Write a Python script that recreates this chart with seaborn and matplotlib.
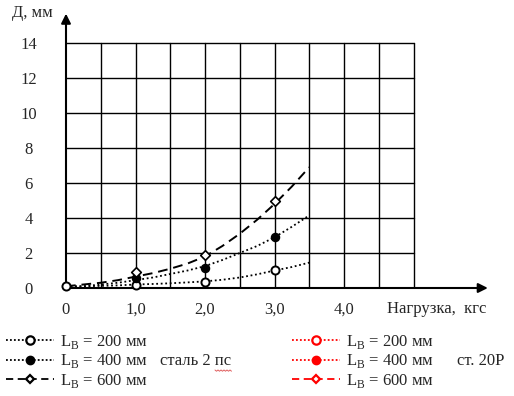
import numpy as np
import pandas as pd
import matplotlib
matplotlib.use("Agg")
import matplotlib.pyplot as plt
from matplotlib.lines import Line2D
import seaborn as sns

# -------------------- data --------------------
curve_x = [0, 0.25, 0.5, 0.75, 1.0, 1.25, 1.5, 1.75, 2.0, 2.25, 2.5, 2.75, 3.0, 3.25, 3.5]
curve_200 = [0.1, 0.1, 0.12, 0.15, 0.2, 0.23, 0.27, 0.32, 0.38, 0.47, 0.6, 0.78, 1.0, 1.2, 1.45]
curve_400 = [0.05, 0.1, 0.2, 0.3, 0.45, 0.6, 0.8, 1.0, 1.25, 1.6, 2.0, 2.4, 2.9, 3.5, 4.15]
curve_600 = [0.1, 0.2, 0.3, 0.45, 0.65, 0.85, 1.1, 1.4, 1.8, 2.4, 3.1, 3.9, 4.8, 5.8, 6.9]

pts_200_x = [0, 1, 2, 3]
pts_200_y = [0.1, 0.2, 0.36, 1.05]
pts_400_x = [1, 2, 3]
pts_400_y = [0.6, 1.15, 2.9]
pts_600_x = [1, 2, 3]
pts_600_y = [0.9, 1.9, 4.95]

x_ticks = [0, 1, 2, 3, 4]
x_tick_labels = ["0", "1,0", "2,0", "3,0", "4,0"]
y_ticks = [0, 2, 4, 6, 8, 10, 12, 14]
legend_labels = ["200", "400", "600"]

# -------------------- style --------------------
sns.set_style("white")
plt.rcParams["font.family"] = ["Liberation Serif", "DejaVu Serif"]
plt.rcParams["mathtext.fontset"] = "custom"
plt.rcParams["mathtext.rm"] = "Liberation Serif"

W, H = 514, 396
fig = plt.figure(figsize=(W / 100, H / 100), dpi=100)
x0, y0 = 66, 288          # pixel of origin
px_x, px_y = 69.5, 17.5   # pixels per unit
right_px, top_px = 492, 10
ax = fig.add_axes([x0 / W, (H - y0) / H, (right_px - x0) / W, (y0 - top_px) / H])
ax.set_xlim(0, (right_px - x0) / px_x)
ax.set_ylim(0, (y0 - top_px) / px_y)
for s in ax.spines.values():
    s.set_visible(False)

# grid: every 0.5 in x up to 5, every 2 in y up to 14
for gx in np.arange(0.5, 5.01, 0.5):
    ax.plot([gx, gx], [0, 14], color="black", lw=1.0, zorder=1)
for gy in range(2, 15, 2):
    ax.plot([0, 5], [gy, gy], color="black", lw=1.0, zorder=1)

# axes arrows
xmax, ymax = ax.get_xlim()[1], ax.get_ylim()[1]
ax.annotate("", xy=(xmax - 0.02, 0), xytext=(0, 0),
            arrowprops=dict(arrowstyle="-|>", color="black", lw=1.5, mutation_scale=14), zorder=2)
ax.annotate("", xy=(0, ymax - 0.05), xytext=(0, 0),
            arrowprops=dict(arrowstyle="-|>", color="black", lw=1.5, mutation_scale=14), zorder=2)

# curves
curves = pd.DataFrame({
    "x": curve_x * 3,
    "y": curve_200 + curve_400 + curve_600,
    "L": ["200"] * len(curve_x) + ["400"] * len(curve_x) + ["600"] * len(curve_x),
})
styles = {"200": (0, (1, 1.5)), "400": (0, (1, 1.5)), "600": (0, (5, 3))}
for key, grp in curves.groupby("L"):
    sns.lineplot(data=grp, x="x", y="y", ax=ax, color="black", lw=1.4 if key == "600" else 1.3,
                 linestyle=styles[key], legend=False, zorder=3)

# markers
sns.scatterplot(x=pts_200_x, y=pts_200_y, ax=ax, marker="o", s=34, facecolor="white",
                edgecolor="black", linewidth=1.4, zorder=5)
sns.scatterplot(x=pts_400_x, y=pts_400_y, ax=ax, marker="o", s=34, color="black",
                edgecolor="black", linewidth=1.0, zorder=5)
sns.scatterplot(x=pts_600_x, y=pts_600_y, ax=ax, marker="D", s=24, facecolor="white",
                edgecolor="black", linewidth=1.2, zorder=5)
for coll in ax.collections:
    coll.set_clip_on(False)

# ticks and labels
ax.set_xticks(x_ticks)
ax.set_xticklabels(x_tick_labels, fontsize=12)
ax.set_yticks(y_ticks)
ax.set_yticklabels([str(v) for v in y_ticks], fontsize=12)
ax.tick_params(length=0, pad=10)
ax.tick_params(axis="y", pad=27)
for lbl in ax.get_yticklabels():
    lbl.set_horizontalalignment("center")
ax.set_xlabel("")
ax.set_ylabel("")
fig.text(32 / W, 1 - 13 / H, "Д, мм", fontsize=12, ha="center", va="center")
fig.text(437 / W, 1 - 309 / H, "Нагрузка,  кгс", fontsize=12, ha="center", va="center")

# legends
def handles(color):
    return [
        Line2D([], [], color=color, ls=(0, (1, 1.2)), lw=1.3, marker="o", ms=6,
               mfc="white", mec=color, mew=1.6),
        Line2D([], [], color=color, ls=(0, (1, 1.2)), lw=1.3, marker="o", ms=6,
               mfc=color, mec=color),
        Line2D([], [], color=color, ls=(0, (4, 2.5)), lw=1.3, marker="D", ms=4.5,
               mfc="white", mec=color, mew=1.6),
    ]

labels = [r"L$_\mathrm{В}$ = " + v + " мм" for v in legend_labels]
leg_kw = dict(frameon=False, fontsize=12, handlelength=2.9, handletextpad=0.35,
              labelspacing=0.08, borderaxespad=0, borderpad=0, loc="upper left")
fig.legend(handles("black"), labels, bbox_to_anchor=(6 / W, 1 - 333 / H), **leg_kw)
fig.legend(handles("red"), labels, bbox_to_anchor=(292 / W, 1 - 333 / H), **leg_kw)
fig.text(160 / W, 1 - 361 / H, "сталь 2 пс", fontsize=12, ha="left", va="center")
fig.text(457 / W, 1 - 361 / H, "ст. 20Р", fontsize=12, ha="left", va="center")

# red spell-check squiggle under "пс"
sq_x = np.arange(215, 232, 1.5)
sq_y = 370 + np.where(np.arange(len(sq_x)) % 2 == 0, 0, 1.2)
fig.add_artist(Line2D(sq_x / W, 1 - sq_y / H, color="#e06060", lw=0.7))

fig.savefig("out.png", dpi=100)
